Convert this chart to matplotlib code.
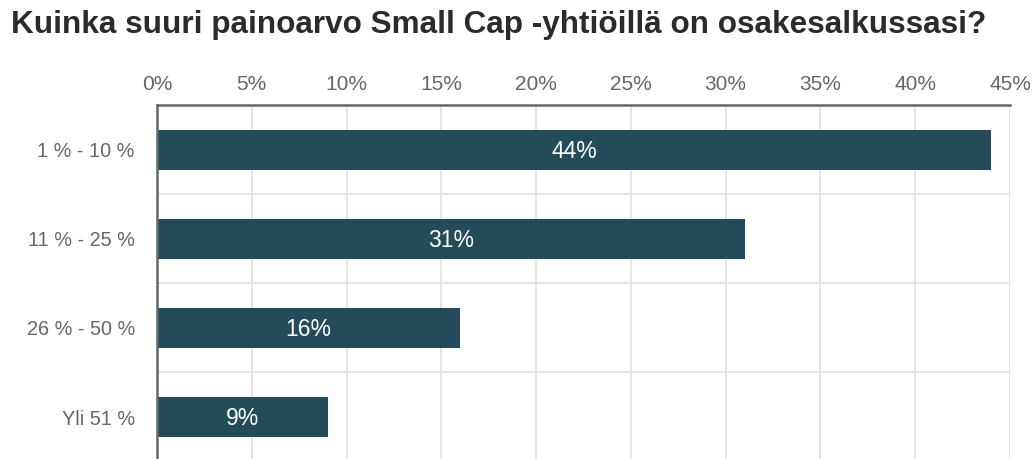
import matplotlib
matplotlib.use("Agg")
import matplotlib.pyplot as plt
import numpy as np

# survey answers and share of respondents (%)
categories = ["1 % - 10 %", "11 % - 25 %", "26 % - 50 %", "Yli 51 %"]
shares = [44, 31, 16, 9]
xticks = [0, 5, 10, 15, 20, 25, 30, 35, 40, 45]

title = "Kuinka suuri painoarvo Small Cap -yhtiöillä on osakesalkussasi?"

bar_color = "#234b59"
text_grey = "#666666"

plt.rcParams['font.family'] = ['Liberation Sans', 'DejaVu Sans']

fig = plt.figure(figsize=(10.35, 4.59), dpi=100)
W, H = 1035, 459
ax = fig.add_axes([157 / W, 0, (1010 - 157) / W, (459 - 105) / H])

y = np.arange(len(categories))
ax.barh(y, shares, height=0.45, color=bar_color, zorder=3)

for yi, v in zip(y, shares):
    ax.text(v / 2, yi + 0.02, f"{v}%", color="white", fontsize=16.5,
            ha="center", va="center", zorder=4)

ax.set_xlim(0, 45)
ax.set_ylim(3.471, -0.5)

ax.set_xticks(xticks)
ax.set_xticklabels([f"{t}%" for t in xticks])
ax.set_yticks(y)
ax.set_yticklabels(categories)
ax.set_yticks(y[:-1] + 0.5, minor=True)

ax.xaxis.tick_top()
ax.tick_params(axis="x", which="both", length=0, pad=8, labelsize=15, labelcolor=text_grey)
ax.tick_params(axis="y", which="both", length=0, pad=16, labelsize=14.3, labelcolor=text_grey)

ax.grid(axis="x", which="major", color="#e3e3e3", linewidth=1.3, zorder=0)
ax.grid(axis="y", which="minor", color="#e3e3e3", linewidth=1.3, zorder=0)

for side in ["right", "bottom"]:
    ax.spines[side].set_visible(False)
for side in ["top", "left"]:
    ax.spines[side].set_color("#666666")
    ax.spines[side].set_linewidth(1.8)
    ax.spines[side].set_zorder(5)

fig.text(11 / W, 1 - 33 / H, title, fontsize=22.7, fontweight="bold",
         color="#2b2b2b", ha="left", va="baseline")

fig.savefig("out.png", dpi=100)
